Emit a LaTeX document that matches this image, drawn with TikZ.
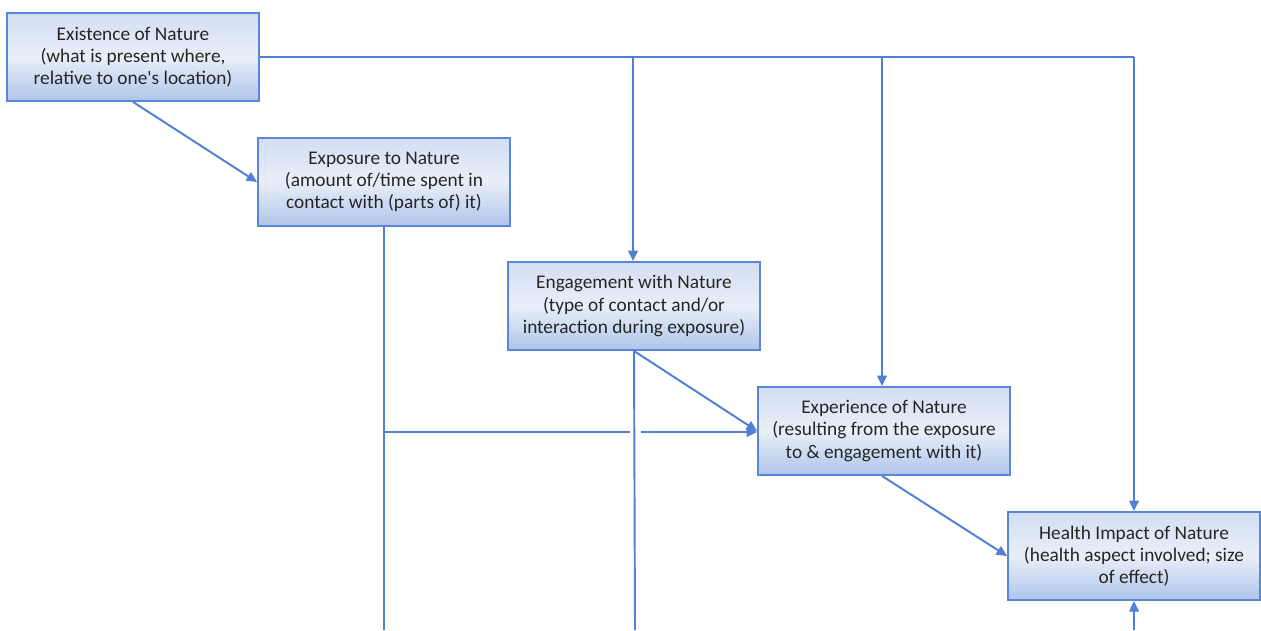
\documentclass[tikz,border=0pt]{standalone}
\usepackage{fontspec}
\setmainfont{Carlito}
\usetikzlibrary{arrows.meta,calc}
\definecolor{lineblue}{HTML}{4F7FD6}
\definecolor{boxedge}{HTML}{5A88D8}
\definecolor{topfill}{HTML}{D3DEF3}
\definecolor{midfill}{HTML}{E9EFF9}
\definecolor{botfill}{HTML}{AFC4EA}
\definecolor{txt}{HTML}{262626}
\tikzset{
  natbox/.style={draw=boxedge, line width=1.1pt, top color=topfill, bottom color=botfill, middle color=midfill,
    minimum width=5.04cm, minimum height=1.76cm, inner sep=0pt, align=center,
    font=\fontsize{11}{12.6}\selectfont, text=txt},
  conn/.style={draw=lineblue, line width=1.1pt},
  arr/.style={conn, -{Triangle[length=6pt,width=5.5pt]}}
}
\begin{document}
\begin{tikzpicture}[x=0.02cm,y=-0.02cm]
\useasboundingbox (0,0) rectangle (1261,630);
\node[natbox] (exist) at (133,57) {Existence of Nature\\(what is present where,\\relative to one\textquotesingle s location)};
\node[natbox] (expo) at (384,182) {Exposure to Nature\\(amount of/time spent in\\contact with (parts of) it)};
\node[natbox] (eng) at (634,306) {Engagement with Nature\\(type of contact and/or\\interaction during exposure)};
\node[natbox] (expe) at (884,431) {Experience of Nature\\(resulting from the exposure\\to \& engagement with it)};
\node[natbox] (health) at (1134,556) {Health Impact of Nature\\(health aspect involved;  size\\of effect)};

\coordinate (top1) at (633,57);
\coordinate (top2) at (882,57);
\coordinate (top3) at (1134,57);
\coordinate (expoB) at (384,630);
\coordinate (engB) at (635,630);
\coordinate (healthB) at (1134,630);
\coordinate (hj) at (384,432);
\coordinate (gapL) at (630,432);
\coordinate (gapR) at (641,432);

% top bus
\draw[conn] (exist.east) -- (top3);
\draw[arr] (top1) -- (top1 |- eng.north);
\draw[arr] (top2) -- (top2 |- expe.north);
\draw[arr] (top3) -- (health.north);
% diagonal chain
\draw[arr] (exist.south) -- (expo.west);
\draw[arr] (eng.south) -- (expe.west);
\draw[arr] ($(expe.south)+(-2,0)$) -- (health.west);
% verticals to the bottom
\draw[conn] (expo.south) -- (expoB);
\draw[conn] (eng.south) -- (engB);
\draw[arr] (healthB) -- (health.south);
% horizontal with gap
\draw[conn] (hj) -- (gapL);
\draw[arr] (gapR) -- (gapR -| expe.west);
\end{tikzpicture}
\end{document}
